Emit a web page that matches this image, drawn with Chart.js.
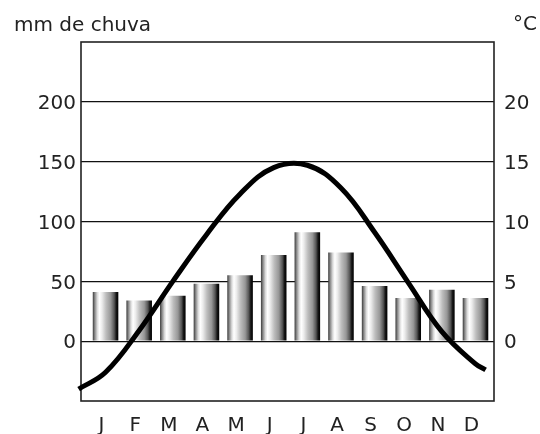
<!DOCTYPE html>
<html>
<head>
<meta charset="utf-8">
<script src="https://cdn.jsdelivr.net/npm/chart.js@4"></script>
<style>
  html, body { margin: 0; padding: 0; background: #fff; }
  canvas { display: block; }
</style>
</head>
<body>
<canvas id="climo" width="540" height="434"></canvas>
<script>
// Climograma: chuva mensal (barras) + temperatura (curva)
const months = ['J', 'F', 'M', 'A', 'M', 'J', 'J', 'A', 'S', 'O', 'N', 'D'];
const rainMm = [41, 34, 38, 48, 55, 72, 91, 74, 46, 36, 43, 36];
const tempC = [-2.6, 0.9, 5.0, 8.9, 12.3, 14.5, 14.7, 12.8, 9.1, 4.9, 0.8, -1.9];
// a curva começa e termina um pouco fora dos meses
const tempEndsX = [-0.8, 11.3];
const tempEndsC = [-4.0, -2.4];
const rainTicks = [0, 50, 100, 150, 200];
const tempTicks = [0, 5, 10, 15, 20];

const FONT = { family: '"DejaVu Sans", sans-serif', size: 20 };
const INK = '#222';
const BAR_PCT = 0.76;

// pontos da curva (meses + pontas)
const tempPoints = [{ x: tempEndsX[0], y: tempEndsC[0] }]
  .concat(tempC.map((t, i) => ({ x: i, y: t })))
  .concat([{ x: tempEndsX[1], y: tempEndsC[1] }]);

// degradê "metálico" por barra
function barGradient(ctx) {
  const chart = ctx.chart;
  const xs = chart.scales.x;
  if (!xs || ctx.type !== 'data') return '#999';
  const step = xs.getPixelForValue(1) - xs.getPixelForValue(0);
  const cx = xs.getPixelForValue(ctx.dataIndex);
  if (!isFinite(step) || !isFinite(cx)) return '#999';
  const hw = step * BAR_PCT / 2;
  const g = chart.ctx.createLinearGradient(cx - hw, 0, cx + hw, 0);
  g.addColorStop(0.00, '#3a3a3a');
  g.addColorStop(0.08, '#8a8a8a');
  g.addColorStop(0.18, '#dcdcdc');
  g.addColorStop(0.26, '#ffffff');
  g.addColorStop(0.36, '#ececec');
  g.addColorStop(0.52, '#bdbdbd');
  g.addColorStop(0.70, '#979797');
  g.addColorStop(0.84, '#555555');
  g.addColorStop(0.92, '#151515');
  g.addColorStop(1.00, '#000000');
  return g;
}

// caixa do gráfico e títulos dos eixos
const framePlugin = {
  id: 'frame',
  beforeDatasetsDraw(chart) {
    const { ctx, chartArea: a } = chart;
    ctx.save();
    ctx.strokeStyle = INK;
    ctx.lineWidth = 1.6;
    ctx.strokeRect(a.left, a.top, a.right - a.left, a.bottom - a.top);
    ctx.restore();
  },
  afterDraw(chart) {
    const { ctx } = chart;
    ctx.save();
    ctx.fillStyle = INK;
    ctx.font = `${FONT.size}px ${FONT.family}`;
    ctx.textBaseline = 'alphabetic';
    ctx.textAlign = 'left';
    ctx.fillText('mm de chuva', 14, 31);
    ctx.fillText('°C', 513, 30);
    ctx.restore();
  }
};

new Chart(document.getElementById('climo'), {
  data: {
    datasets: [
      {
        type: 'line',
        label: 'Temperatura',
        data: tempPoints,
        yAxisID: 'y1',
        borderColor: '#000',
        borderWidth: 5,
        pointRadius: 0,
        tension: 0.4,
        fill: false,
        clip: false,
        order: 0
      },
      {
        type: 'bar',
        label: 'Chuva',
        data: rainMm.map((v, i) => ({ x: i, y: v })),
        yAxisID: 'y',
        backgroundColor: barGradient,
        borderWidth: 0,
        barPercentage: BAR_PCT,
        categoryPercentage: 1,
        order: 1
      }
    ]
  },
  options: {
    responsive: false,
    animation: false,
    events: [],
    layout: { padding: { top: 42, left: 0, right: 0, bottom: 0 } },
    plugins: {
      legend: { display: false },
      tooltip: { enabled: false },
      title: { display: false }
    },
    scales: {
      x: {
        type: 'linear',
        offset: false,
        min: -0.73,
        max: 11.55,
        grid: { display: false, drawTicks: false },
        border: { display: false },
        afterBuildTicks: (s) => { s.ticks = months.map((m, i) => ({ value: i })); },
        afterFit: (s) => { s.height = 33; },
        ticks: {
          autoSkip: false,
          maxRotation: 0,
          padding: 13,
          labelOffset: -4,
          color: INK,
          font: FONT,
          callback: (v, i) => months[i]
        }
      },
      y: {
        position: 'left',
        min: -50,
        max: 250,
        z: 1,
        afterBuildTicks: (s) => { s.ticks = rainTicks.map(v => ({ value: v })); },
        afterFit: (s) => { s.width = 81; },
        grid: { color: '#111', lineWidth: 1.3, drawTicks: false },
        border: { display: false },
        ticks: { padding: 5, labelOffset: 2, color: INK, font: FONT }
      },
      y1: {
        position: 'right',
        min: -5,
        max: 25,
        afterBuildTicks: (s) => { s.ticks = tempTicks.map(v => ({ value: v })); },
        afterFit: (s) => { s.width = 46; },
        grid: { display: false, drawTicks: false },
        border: { display: false },
        ticks: { padding: 10, labelOffset: 2, color: INK, font: FONT }
      }
    }
  },
  plugins: [framePlugin]
});
</script>
</body>
</html>
